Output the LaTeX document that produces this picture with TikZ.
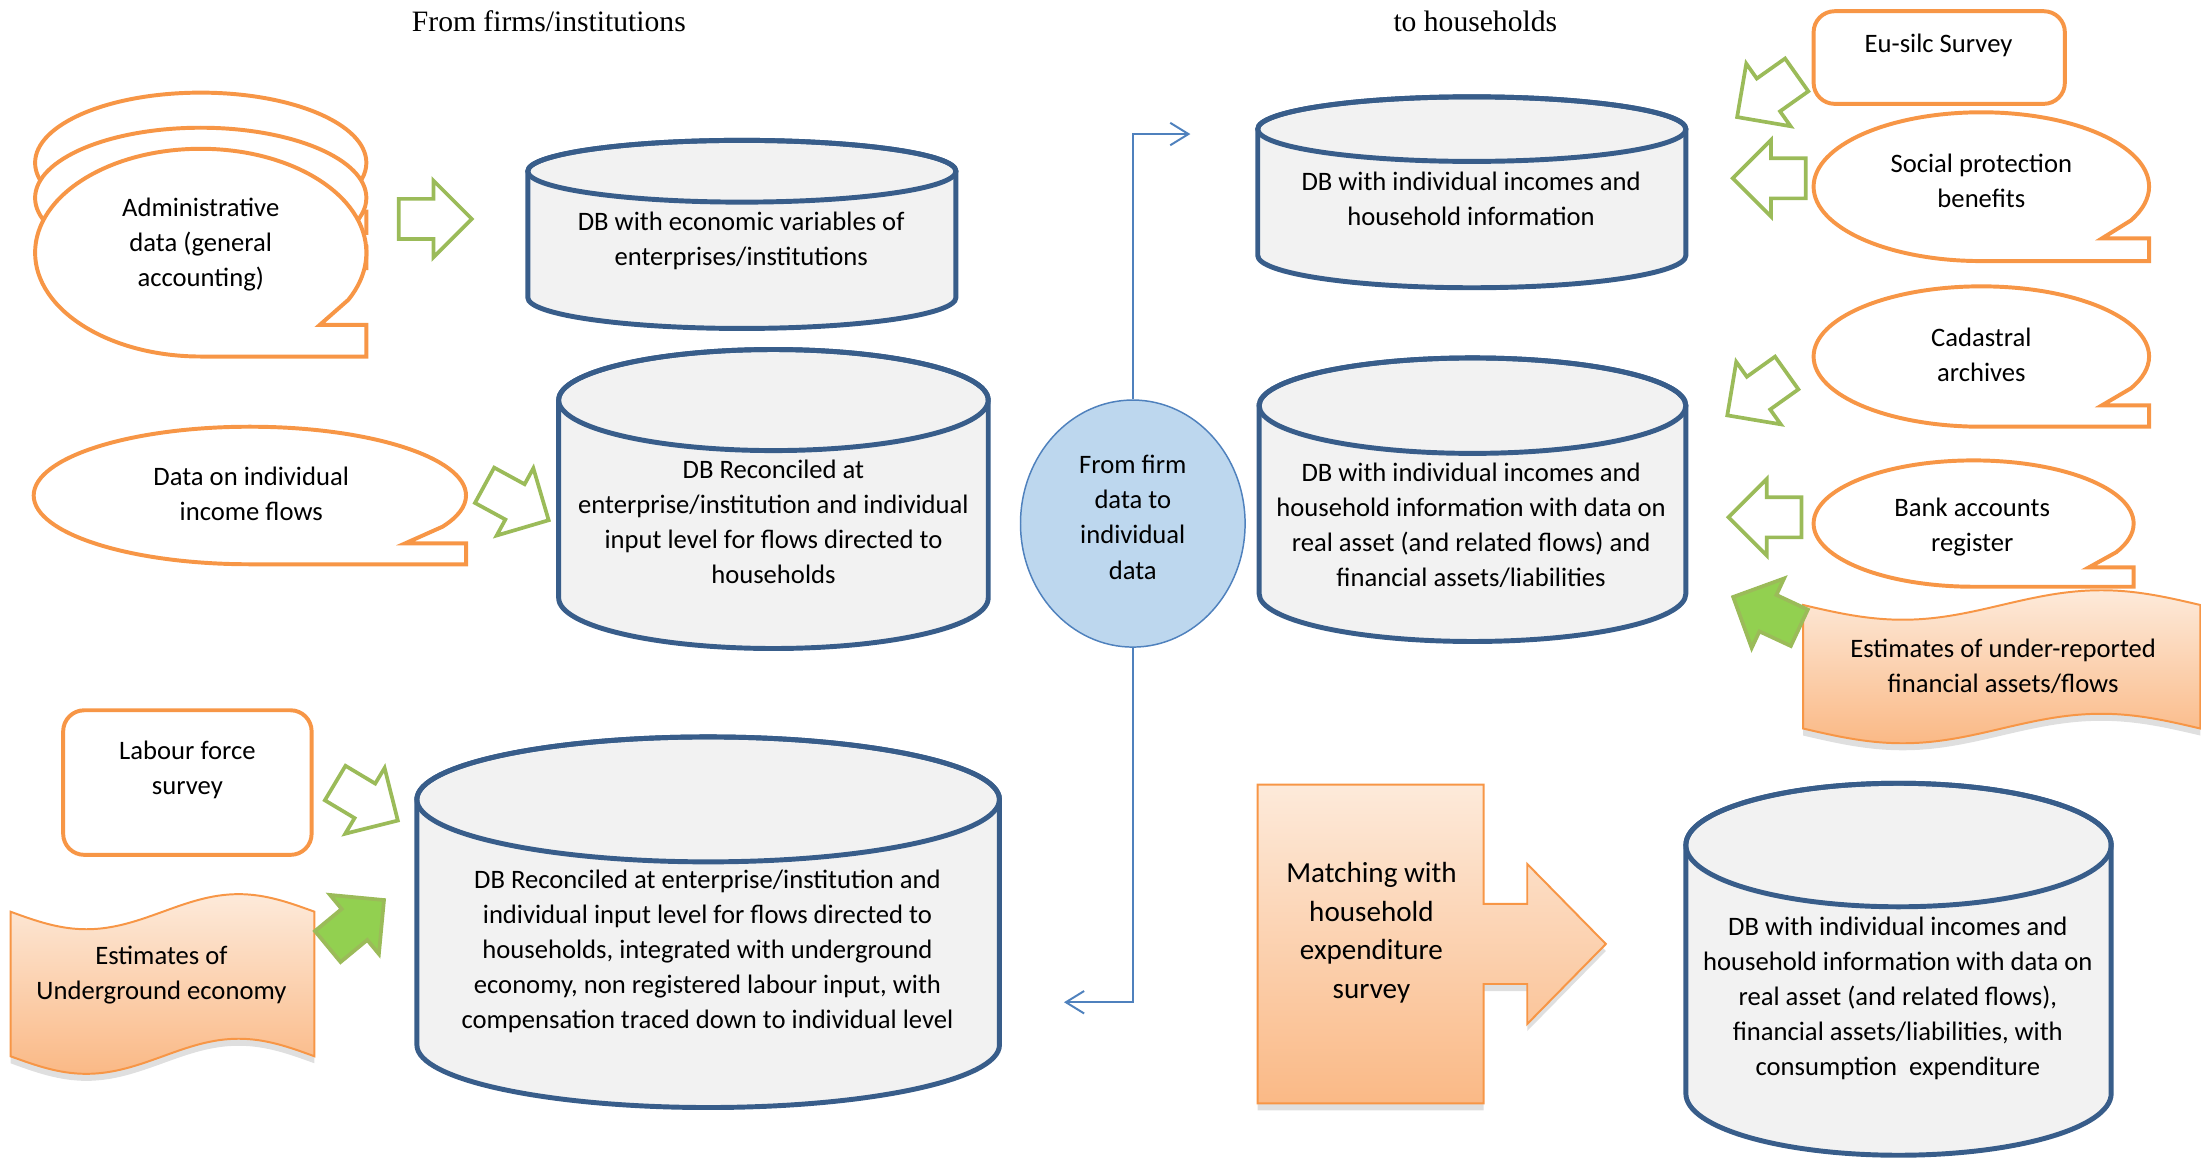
\documentclass[tikz,border=0pt]{standalone}
\usepackage{fontspec}
\setmainfont{Carlito}
\newfontfamily\headfont{Liberation Serif}
\usepackage{tikz}
\usetikzlibrary{shapes.geometric, shapes.arrows, arrows.meta, shadows}

\definecolor{dbblue}{HTML}{385D8A}
\definecolor{dbfill}{HTML}{F2F2F2}
\definecolor{srcorange}{HTML}{F79646}
\definecolor{arrgreen}{HTML}{9BBB59}
\definecolor{arrfill}{HTML}{92D050}
\definecolor{peachtop}{HTML}{FDEADA}
\definecolor{peachbot}{HTML}{FAB986}
\definecolor{stepblue}{HTML}{BDD7EE}
\definecolor{lineblue}{HTML}{4F81BD}

% oval callout with the squared tail at the lower right: centre, x radius, y radius
\newcommand{\ovalcallout}[3]{%
  \draw[bubble] ([yshift=-#3]#1) arc[start angle=-90, end angle=-387, x radius=#2, y radius=#3]
    -- ([shift={(-44:#2 and #3)}]#1) -| ([shift={(#2,-#3)}]#1) -- cycle;}

% database drum round a box node: node, half width, radius of the ends
\newcommand{\dbcylinder}[3]{%
  \draw[dbline] ([yshift=-#3]#1.north west) -- ([yshift=#3]#1.south west)
    arc[start angle=180, end angle=360, x radius=#2, y radius=#3]
    -- ([yshift=-#3]#1.north east)
    arc[start angle=0, end angle=180, x radius=#2, y radius=#3] -- cycle;
  \draw[dbline, fill=none] ([yshift=-#3]#1.north) ellipse[x radius=#2, y radius=#3];}

\begin{document}
\begin{tikzpicture}[
  txt/.style={align=center, inner sep=0pt, font=\fontsize{10.8}{14.2}\selectfont},
  head/.style={inner sep=0pt, font=\headfont\fontsize{12}{14}\selectfont},
  dbbox/.style={rectangle, inner sep=0pt, outer sep=0pt},
  dbline/.style={draw=dbblue, line width=2pt, fill=dbfill},
  bubble/.style={draw=srcorange, line width=1.6pt, fill=white},
  srcbox/.style={rectangle, draw=srcorange, line width=1.6pt, rounded corners=0.3cm, fill=white, inner sep=0pt},
  peach/.style={draw=srcorange, line width=0.8pt, top color=peachtop, bottom color=peachbot,
    drop shadow={shadow xshift=0pt, shadow yshift=-0.1cm, opacity=0.25}},
  feed/.style={single arrow, draw=arrgreen, line width=1.5pt, fill=white, inner xsep=0pt, inner ysep=0.26cm,
    minimum height=1.04cm, minimum width=1.04cm, single arrow head extend=0.26cm, anchor=tip},
  feedfill/.style={feed, fill=arrfill},
  flowline/.style={lineblue, line width=0.8pt, -{Straight Barb[length=0.26cm, width=0.32cm]}}
]
\useasboundingbox (0,0) rectangle (31.36,16.54);

% headings
\node[head] (firmsHead) at (7.82,16.24) {From firms/institutions};
\node[head] (hhHead) at (21.02,16.24) {to households};

% sources, firm side
\ovalcallout{2.86,14.22}{2.36cm}{1.0cm}
\ovalcallout{2.86,13.72}{2.36cm}{1.0cm}
\ovalcallout{2.86,12.94}{2.36cm}{1.48cm}
\node[txt] (admin) at (2.86,13.06) {Administrative\\data (general\\accounting)};

\ovalcallout{3.56,9.48}{3.08cm}{0.98cm}
\node[txt] (income) at (3.58,9.51) {Data on individual\\income flows};

\node[srcbox, minimum width=3.54cm, minimum height=2.06cm] (labour) at (2.67,5.39) {};
\node[txt] (labourTxt) at (2.67,5.57) {Labour force\\survey};

\path[peach] (0.15,3.55) sin (1.23,3.30) cos (2.32,3.55) sin (3.40,3.80) cos (4.48,3.55)
  -- (4.48,1.49) sin (3.40,1.74) cos (2.32,1.49) sin (1.23,1.24) cos (0.15,1.49) -- cycle;
\node[txt] (under) at (2.3,2.65) {Estimates of\\Underground economy};

% databases
\node[dbbox, minimum width=6.1cm, minimum height=2.68cm] (dbFirms) at (10.57,13.2) {};
\dbcylinder{dbFirms}{3.05cm}{0.44cm}
\node[txt] (dbFirmsTxt) at (10.56,13.11) {DB with economic variables of\\enterprises/institutions};

\node[dbbox, minimum width=6.12cm, minimum height=4.26cm] (dbRec) at (11.02,9.43) {};
\dbcylinder{dbRec}{3.06cm}{0.72cm}
\node[txt] (dbRecTxt) at (11.02,9.11) {DB Reconciled at\\enterprise/institution and individual\\input level for flows directed to\\households};

\node[dbbox, minimum width=8.3cm, minimum height=5.28cm] (dbUnder) at (10.09,3.4) {};
\dbcylinder{dbUnder}{4.15cm}{0.89cm}
\node[txt] (dbUnderTxt) at (10.08,2.99) {DB Reconciled at enterprise/institution and\\individual input level for flows directed to\\households, integrated with underground\\economy, non registered labour input, with\\compensation traced down to individual level};

\node[dbbox, minimum width=6.1cm, minimum height=2.72cm] (dbHH) at (20.97,13.8) {};
\dbcylinder{dbHH}{3.05cm}{0.46cm}
\node[txt] (dbHHTxt) at (20.96,13.71) {DB with individual incomes and\\household information};

\node[dbbox, minimum width=6.08cm, minimum height=4.04cm] (dbAssets) at (20.98,9.42) {};
\dbcylinder{dbAssets}{3.04cm}{0.68cm}
\node[txt] (dbAssetsTxt) at (20.96,9.06) {DB with individual incomes and\\household information with data on\\real asset (and related flows) and\\financial assets/liabilities};

\node[dbbox, minimum width=6.06cm, minimum height=5.3cm] (dbCons) at (27.05,2.73) {};
\dbcylinder{dbCons}{3.03cm}{0.88cm}
\node[txt] (dbConsTxt) at (27.04,2.32) {DB with individual incomes and\\household information with data on\\real asset (and related flows),\\financial assets/liabilities, with\\consumption\ \ expenditure};

% firm to individual step
\node[ellipse, draw=lineblue, line width=0.6pt, fill=stepblue, minimum width=3.2cm, minimum height=3.52cm, txt, text depth=0.18cm] (fromFirm) at (16.14,9.08) {From firm\\data to\\individual\\data};
\coordinate (toHH) at (16.96,14.63);
\coordinate (toFirm) at (15.16,2.26);
\draw[flowline] (fromFirm.north) |- (toHH);
\draw[flowline] (fromFirm.south) |- (toFirm);

% sources, household side
\node[srcbox, minimum width=3.58cm, minimum height=1.32cm] (silc) at (27.63,15.72) {};
\node[txt] (silcTxt) at (27.62,15.9) {Eu-silc Survey};
\ovalcallout{28.23,13.88}{2.39cm}{1.06cm}
\node[txt] (social) at (28.23,13.96) {Social protection\\benefits};
\ovalcallout{28.23,11.46}{2.39cm}{1.0cm}
\node[txt] (cadastre) at (28.23,11.48) {Cadastral\\archives};
\ovalcallout{28.12,9.08}{2.28cm}{0.9cm}
\node[txt] (bank) at (28.1,9.03) {Bank accounts\\register};

\path[peach] (25.69,7.92) sin (27.11,7.71) cos (28.52,7.92) sin (29.94,8.13) cos (31.35,7.92)
  -- (31.35,6.16) sin (29.94,6.37) cos (28.52,6.16) sin (27.11,5.95) cos (25.69,6.16) -- cycle;
\node[txt] (reported) at (28.54,7.05) {Estimates of under-reported\\financial assets/flows};

\path[peach] (17.92,5.36) -- (21.14,5.36) -- (21.14,3.66) -- (21.76,3.66) -- (21.76,4.23) -- (22.88,3.09)
  -- (21.76,1.95) -- (21.76,2.52) -- (21.14,2.52) -- (21.14,0.82) -- (17.92,0.82) -- cycle;
\node[txt, font=\fontsize{11.8}{15.6}\selectfont] (matching) at (19.54,3.25) {Matching with\\household\\expenditure\\survey};

% feeding arrows
\node[feed] (feedAdmin) at (6.76,13.42) {};
\node[feed, rotate=-28.6] (feedIncome) at (7.85,9.11) {};
\node[feed, rotate=-30.9] (feedLabour) at (5.70,4.83) {};
\node[feedfill, rotate=39.6] (feedUnder) at (5.5,3.74) {};
\node[feed, rotate=215.3] (feedSilc) at (24.72,14.85) {};
\node[feed, rotate=180] (feedSocial) at (24.65,14.0) {};
\node[feed, rotate=215.5] (feedCadastre) at (24.58,10.6) {};
\node[feed, rotate=180] (feedBank) at (24.59,9.17) {};
\node[feedfill, rotate=155] (feedReported) at (24.66,8.05) {};
\end{tikzpicture}
\end{document}
